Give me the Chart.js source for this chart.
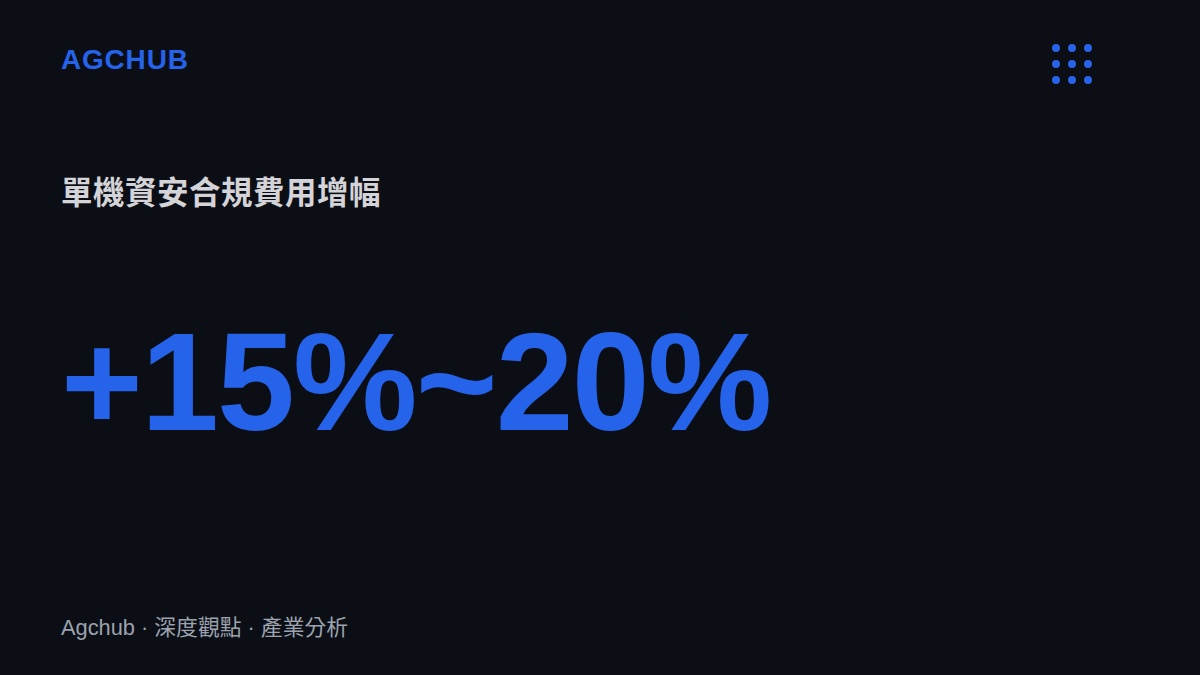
<!DOCTYPE html>
<html>
<head>
<meta charset="utf-8">
<script src="https://cdn.jsdelivr.net/npm/chart.js@4.4.1/dist/chart.umd.min.js"></script>
<style>
  html, body { margin: 0; padding: 0; }
  body {
    width: 1200px; height: 675px; overflow: hidden; position: relative;
    background: #0b0e15;
    font-family: "Liberation Sans", Arial, "Noto Sans CJK TC", sans-serif;
  }
  .t { position: absolute; left: 61px; white-space: nowrap; line-height: 1; margin: 0; }
  #brand { top: 46px; font-size: 28px; font-weight: 700; color: #2563eb; letter-spacing: 0.8px; }
  #title { top: 178px; font-size: 31.5px; font-weight: 700; color: #d4d4d8; letter-spacing: 0.5px;
           font-family: "Liberation Sans", "Noto Sans CJK TC", sans-serif; }
  #value { top: 312px; font-size: 140px; font-weight: 700; color: #2563eb; letter-spacing: -1.8px; }
  #footer { top: 617px; font-size: 21.8px; color: #9ca3af;
            font-family: "Liberation Sans", "Noto Sans CJK TC", sans-serif; }
  #dots { position: absolute; left: 1040px; top: 32px; width: 64px; height: 64px; }
</style>
</head>
<body>
<div class="t" id="brand"></div>
<div class="t" id="title"></div>
<div class="t" id="value"></div>
<div class="t" id="footer"></div>
<div id="dots"><canvas id="c"></canvas></div>
<script>
// card texts and headline range
const brandName = 'AGCHUB';
const metricLabel = '單機資安合規費用增幅';
const rangeLow = 15;
const rangeHigh = 20;
const footerParts = ['Agchub', '深度觀點', '產業分析'];

// decorative 3x3 dot grid
const dotCols = [1, 2, 3];
const dotRows = [1, 2, 3];

document.getElementById('brand').textContent = brandName;
document.getElementById('title').textContent = metricLabel;
document.getElementById('value').textContent = '+' + rangeLow + '%~' + rangeHigh + '%';
document.getElementById('footer').textContent = footerParts.join(' · ');

const dotPoints = [];
dotRows.forEach(y => dotCols.forEach(x => dotPoints.push({ x, y })));

new Chart(document.getElementById('c'), {
  type: 'scatter',
  data: {
    datasets: [{
      data: dotPoints,
      backgroundColor: '#2563eb',
      borderWidth: 0,
      pointRadius: 4,
      pointHoverRadius: 4
    }]
  },
  options: {
    responsive: true,
    maintainAspectRatio: false,
    animation: false,
    layout: { padding: 0, autoPadding: false },
    plugins: { legend: { display: false }, tooltip: { enabled: false } },
    scales: {
      x: { display: false, min: 0, max: 4 },
      y: { display: false, min: 0, max: 4, reverse: true }
    }
  }
});
</script>
</body>
</html>
